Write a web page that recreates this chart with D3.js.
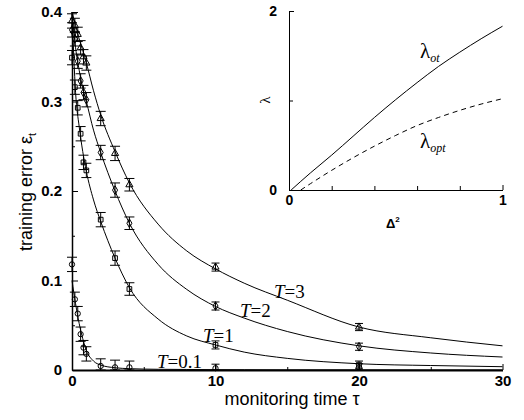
<!DOCTYPE html>
<html>
<head>
<meta charset="utf-8">
<script src="https://cdn.jsdelivr.net/npm/d3@7"></script>
<style>
  body { margin: 0; background: #fff; }
  svg { display: block; }
  .axis path, .axis line { stroke: #000; }
  .axis text { font-family: "Liberation Sans", Arial, sans-serif; fill: #000; font-weight: bold; }
  .curve { fill: none; stroke: #000; stroke-width: 1; }
  .bar { stroke: #000; stroke-width: 1; }
  .mark { fill: none; stroke: #000; stroke-width: 1; }
</style>
</head>
<body>
<svg id="chart" width="524" height="420"></svg>
<script>
// ---- data ----
var temps = ["0.1", "1", "2", "3"];
var tauPoints = [0, 0.2, 0.4, 0.6, 0.8, 1, 2, 3, 4, 10, 20];
var errPoints = [0.008, 0.008, 0.008, 0.008, 0.008, 0.008, 0.008, 0.008, 0.007, 0.0045, 0.004];

var simT01 = [0.118, 0.079, 0.063, 0.040, 0.025, 0.018, 0.0045, 0.003, 0.003, 0.002, 0.003];
var simT1  = [0.349, 0.316, 0.293, 0.264, 0.232, 0.223, 0.168, 0.125, 0.0905, 0.028, 0.006];
var simT2  = [0.380, 0.370, 0.345, 0.323, 0.310, 0.302, 0.243, 0.201, 0.164, 0.0715, 0.026];
var simT3  = [0.390, 0.385, 0.375, 0.360, 0.350, 0.343, 0.281, 0.242, 0.207, 0.115, 0.048];

var curveTau = [0, 0.25, 0.5, 0.75, 1, 1.5, 2, 3, 4, 6, 8, 10, 12, 15, 20, 25, 30];
var theoT01 = [0.100, 0.074, 0.052, 0.035, 0.022, 0.010, 0.0055, 0.0025, 0.0015, 0.0008, 0.0006, 0.0004, 0.0003, 0.0002, 0.0002, 0.0001, 0.0001];
var theoT1  = [0.400, 0.310, 0.272, 0.244, 0.222, 0.190, 0.166, 0.125, 0.092, 0.057, 0.038, 0.028, 0.020, 0.013, 0.007, 0.005, 0.0037];
var theoT2  = [0.400, 0.360, 0.335, 0.315, 0.300, 0.268, 0.243, 0.200, 0.164, 0.118, 0.090, 0.071, 0.058, 0.043, 0.027, 0.019, 0.0145];
var theoT3  = [0.400, 0.385, 0.370, 0.357, 0.343, 0.312, 0.285, 0.244, 0.209, 0.163, 0.133, 0.113, 0.097, 0.078, 0.048, 0.036, 0.027];

var xTicks = [0, 10, 20, 30];
var xMinor = [5, 15, 25];
var yTicks = [0, 0.1, 0.2, 0.3, 0.4];
var yMinor = [0.05, 0.15, 0.25, 0.35];

// inset
var deltaSq    = [0.01, 0.1, 0.2, 0.3, 0.4, 0.5, 0.6, 0.7, 0.8, 0.9, 1.0];
var lambdaOt   = [0.0, 0.19, 0.39, 0.60, 0.81, 1.01, 1.20, 1.38, 1.54, 1.69, 1.83];
var deltaSqOpt = [0.055, 0.1, 0.2, 0.3, 0.4, 0.5, 0.6, 0.7, 0.8, 0.9, 1.0];
var lambdaOpt  = [0.0, 0.07, 0.22, 0.36, 0.49, 0.61, 0.72, 0.81, 0.89, 0.96, 1.02];
var insetXTicks = [0, 1];
var insetXMinor = [0.2, 0.4, 0.6, 0.8];
var insetYTicks = [0, 2];
var insetYMinor = [1];

var svg = d3.select("#chart");

// main panel scales
var x = d3.scaleLinear().domain([0, 30]).range([72, 502.5]);
var y = d3.scaleLinear().domain([0, 0.4]).range([370, 12]);

var gx = svg.append("g").attr("class", "axis").attr("transform", "translate(0,370)");
gx.call(d3.axisBottom(x).tickValues(xTicks).tickSizeInner(-6).tickSizeOuter(0).tickPadding(5).tickFormat(d3.format("d")));
gx.select(".domain").attr("stroke-width", 1.8);
gx.selectAll("text").attr("font-size", 15);
svg.append("g").attr("class", "axis").attr("transform", "translate(0,370)")
  .call(d3.axisBottom(x).tickValues(xMinor).tickSizeInner(-3).tickSizeOuter(0).tickFormat(""))
  .select(".domain").remove();

var gy = svg.append("g").attr("class", "axis").attr("transform", "translate(72,0)");
gy.call(d3.axisLeft(y).tickValues(yTicks).tickSizeInner(-6).tickSizeOuter(0).tickPadding(10)
  .tickFormat(function(d){ return d === 0 ? "0" : d3.format(".1f")(d); }));
gy.select(".domain").attr("stroke-width", 1.5);
gy.selectAll("text").attr("font-size", 15);
svg.append("g").attr("class", "axis").attr("transform", "translate(72,0)")
  .call(d3.axisLeft(y).tickValues(yMinor).tickSizeInner(-3).tickSizeOuter(0).tickFormat(""))
  .select(".domain").remove();

// axis titles
svg.append("text")
  .attr("x", 292).attr("y", 405)
  .attr("text-anchor", "middle")
  .attr("font-family", "Liberation Sans, Arial, sans-serif")
  .attr("font-size", 18)
  .text("monitoring time τ");

var yt = svg.append("text")
  .attr("transform", "translate(32,192) rotate(-90)")
  .attr("text-anchor", "middle")
  .attr("font-family", "Liberation Sans, Arial, sans-serif")
  .attr("font-size", 18);
yt.append("tspan").text("training error ε");
yt.append("tspan").attr("font-size", 11).attr("dy", 4).text("t");

// theory curves
var line = d3.line()
  .curve(d3.curveMonotoneX)
  .x(function(d){ return x(d[0]); })
  .y(function(d){ return y(d[1]); });

[theoT01, theoT1, theoT2, theoT3].forEach(function(vals){
  svg.append("path")
    .datum(curveTau.map(function(t, i){ return [t, vals[i]]; }))
    .attr("class", "curve")
    .attr("d", line);
});

// simulation points with error bars
var shapes = [d3.symbolCircle, d3.symbolSquare, d3.symbolDiamond, d3.symbolTriangle];
[simT01, simT1, simT2, simT3].forEach(function(vals, k){
  var pts = tauPoints.map(function(t, i){ return {t: t, e: vals[i], s: errPoints[i]}; });
  var g = svg.append("g");
  var capW = function(d){ return d.t >= 10 ? 4 : 5; };
  g.selectAll(".v").data(pts).enter().append("line").attr("class", "bar")
    .attr("x1", function(d){ return x(d.t); }).attr("x2", function(d){ return x(d.t); })
    .attr("y1", function(d){ return y(Math.max(0, d.e - d.s)); })
    .attr("y2", function(d){ return y(d.e + d.s); });
  g.selectAll(".top").data(pts).enter().append("line").attr("class", "bar")
    .attr("x1", function(d){ return x(d.t) - capW(d); }).attr("x2", function(d){ return x(d.t) + capW(d); })
    .attr("y1", function(d){ return y(d.e + d.s); }).attr("y2", function(d){ return y(d.e + d.s); });
  g.selectAll(".bot").data(pts).enter().append("line").attr("class", "bar")
    .attr("x1", function(d){ return x(d.t) - capW(d); }).attr("x2", function(d){ return x(d.t) + capW(d); })
    .attr("y1", function(d){ return y(Math.max(0, d.e - d.s)); }).attr("y2", function(d){ return y(Math.max(0, d.e - d.s)); });
  g.selectAll(".m").data(pts).enter().append("path").attr("class", "mark")
    .attr("transform", function(d){ return "translate(" + x(d.t) + "," + y(d.e) + ")"; })
    .attr("d", d3.symbol().type(shapes[k]).size(22));
});

// curve labels
var labelPos = [[157, 368], [203, 342], [240, 317], [274, 298]];
temps.forEach(function(T, i){
  var t = svg.append("text")
    .attr("x", labelPos[i][0]).attr("y", labelPos[i][1])
    .attr("font-family", "Liberation Serif, Times New Roman, serif")
    .attr("font-size", 19);
  t.append("tspan").attr("font-style", "italic").text("T");
  t.append("tspan").text("=" + T);
});

// ---- inset ----
var xi = d3.scaleLinear().domain([0, 1]).range([289, 502.5]);
var yi = d3.scaleLinear().domain([0, 2]).range([190, 11]);

var gxi = svg.append("g").attr("class", "axis").attr("transform", "translate(0,190)");
gxi.call(d3.axisBottom(xi).tickValues(insetXTicks).tickSizeInner(-5).tickSizeOuter(0).tickPadding(5).tickFormat(d3.format("d")));
gxi.selectAll("text").attr("font-size", 14);
svg.append("g").attr("class", "axis").attr("transform", "translate(0,190)")
  .call(d3.axisBottom(xi).tickValues(insetXMinor).tickSizeInner(-4).tickSizeOuter(0).tickFormat(""))
  .select(".domain").remove();

var gyi = svg.append("g").attr("class", "axis").attr("transform", "translate(289,0)");
gyi.call(d3.axisLeft(yi).tickValues(insetYTicks).tickSizeInner(-5).tickSizeOuter(0).tickPadding(12).tickFormat(d3.format("d")));
gyi.selectAll("text").attr("font-size", 14);
svg.append("g").attr("class", "axis").attr("transform", "translate(289,0)")
  .call(d3.axisLeft(yi).tickValues(insetYMinor).tickSizeInner(-4).tickSizeOuter(0).tickFormat(""))
  .select(".domain").remove();

var xl = svg.append("text")
  .attr("x", 386).attr("y", 228)
  .attr("font-family", "Liberation Sans, Arial, sans-serif")
  .attr("font-weight", "bold")
  .attr("font-size", 13);
xl.append("tspan").text("Δ");
xl.append("tspan").attr("font-size", 8).attr("dy", -6).text("2");

svg.append("text")
  .attr("transform", "translate(270,100) rotate(-90)")
  .attr("text-anchor", "middle")
  .attr("font-family", "Liberation Serif, Times New Roman, serif")
  .attr("font-size", 15)
  .text("λ");

var lineI = d3.line()
  .curve(d3.curveMonotoneX)
  .x(function(d){ return xi(d[0]); })
  .y(function(d){ return yi(d[1]); });

svg.append("path")
  .datum(deltaSq.map(function(v, i){ return [v, lambdaOt[i]]; }))
  .attr("class", "curve").attr("d", lineI);
svg.append("path")
  .datum(deltaSqOpt.map(function(v, i){ return [v, lambdaOpt[i]]; }))
  .attr("class", "curve").attr("stroke-dasharray", "5,4").attr("d", lineI);

function lambdaLabel(px, py, sub){
  var t = svg.append("text").attr("x", px).attr("y", py)
    .attr("font-family", "Liberation Serif, Times New Roman, serif")
    .attr("font-size", 21);
  t.append("tspan").text("λ");
  t.append("tspan").attr("font-size", 12).attr("font-style", "italic").attr("dy", 4).text(sub);
}
lambdaLabel(420, 58, "ot");
lambdaLabel(420, 148, "opt");
</script>
</body>
</html>
